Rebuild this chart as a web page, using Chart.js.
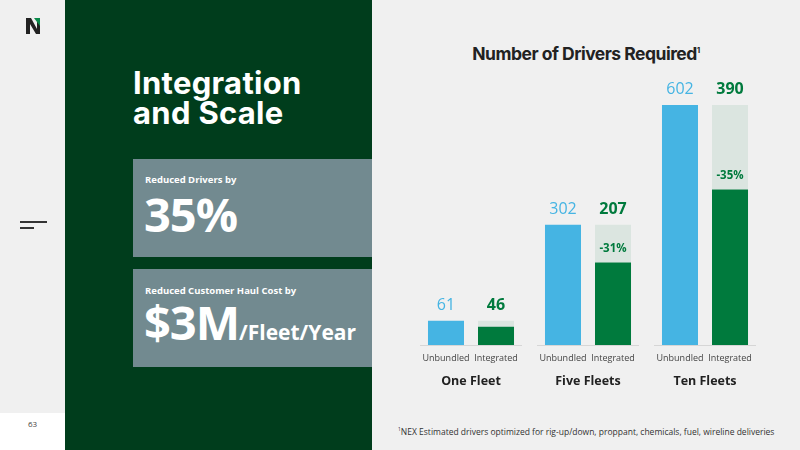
<!DOCTYPE html>
<html><head><meta charset="utf-8">
<script src="https://cdn.jsdelivr.net/npm/chart.js@4"></script>
<style>
body{margin:0;width:800px;height:450px;overflow:hidden;background:#f0f0f0;font-family:"Open Sans",sans-serif;position:relative}
.abs{position:absolute}
</style></head><body>
<div class="abs" style="left:0;top:413px;width:65px;height:37px;background:#fff"></div>
<div class="abs" style="left:0;top:418px;width:65px;text-align:center;font-size:8px;color:#444">63</div>
<svg class="abs" style="left:24px;top:16px" width="18" height="20"><polygon points="2,2 7,2 13,13 13,2 16,2 16,18 12,18 6,8 6,18 2,18" fill="#222"/><polygon points="10,2 16,2 16,10" fill="#0a8a4a"/></svg>
<div class="abs" style="left:20px;top:221px;width:27px;height:1.5px;background:#333"></div>
<div class="abs" style="left:20px;top:227px;width:14px;height:1.5px;background:#333"></div>
<div class="abs" style="left:65px;top:0;width:307px;height:450px;background:#003d1c"></div>
<div class="abs" style="left:133px;top:68px;color:#fff;font-family:Inter,sans-serif;font-weight:700;font-size:31px;line-height:30px;letter-spacing:0.3px">Integration<br>and Scale</div>
<div class="abs" style="left:133px;top:159px;width:239px;height:98px;background:#728a90"></div>
<div class="abs" style="left:145px;top:173px;color:#fff;font-size:9.5px;font-weight:700">Reduced Drivers by</div>
<div class="abs" style="left:144px;top:186px;color:#fff;font-size:47px;font-weight:700;line-height:56px;letter-spacing:-1px">35%</div>
<div class="abs" style="left:133px;top:269px;width:239px;height:98px;background:#728a90"></div>
<div class="abs" style="left:145px;top:284px;color:#fff;font-size:9.5px;font-weight:700">Reduced Customer Haul Cost by</div>
<div class="abs" style="left:144px;top:294px;color:#fff;font-size:47px;font-weight:700;line-height:56px;letter-spacing:-1px">$3M<span style="font-size:21px;letter-spacing:0">/Fleet/Year</span></div>
<div class="abs" style="left:372px;top:43px;width:428px;text-align:center;font-family:Inter,sans-serif;font-weight:700;font-size:17.5px;color:#222;letter-spacing:-0.5px">Number of Drivers Required<sup style="font-size:8px">1</sup></div>
<div class="abs" style="left:398px;top:426px;font-size:8.5px;color:#333"><sup style="font-size:5px">1</sup>NEX Estimated drivers optimized for rig-up/down, proppant, chemicals, fuel, wireline deliveries</div>
<div class="abs" style="left:372px;top:0;width:428px;height:450px"><canvas id="c"></canvas></div>
<script>
const categories=["One Fleet","Five Fleets","Ten Fleets"];
const unbundled=[61,302,602];
const integrated=[46,207,390];
const reductions=["","-31%","-35%"];
const subLabels=["Unbundled","Integrated"];
const remainder=unbundled.map((v,i)=>v-integrated[i]);
const labelsPlugin={id:'lbl',afterDatasetsDraw(ch){
 const c=ch.ctx,m0=ch.getDatasetMeta(0),m1=ch.getDatasetMeta(1),y0=ch.scales.y.getPixelForValue(0);
 c.save();c.textAlign='center';
 categories.forEach((cat,i)=>{
  const cx=ch.scales.x.getPixelForValue(i);
  c.strokeStyle='#d6d6d6';c.lineWidth=1;c.beginPath();c.moveTo(cx-51,y0+0.5);c.lineTo(cx+51,y0+0.5);c.stroke();
  const a=m0.data[i],b=m1.data[i];
  const top=ch.scales.y.getPixelForValue(unbundled[i]);
  c.font='16px "Open Sans"';c.fillStyle='#45b4e3';c.fillText(unbundled[i],a.x,top-11);
  c.font='bold 16px "Open Sans"';c.fillStyle='#007a3d';c.fillText(integrated[i],b.x,top-11);
  if(reductions[i]){c.font='bold 11.5px "Open Sans"';c.fillText(reductions[i],b.x,b.y-11);}
  c.font='9px "Open Sans"';c.fillStyle='#444';
  c.fillText(subLabels[0],a.x,y0+16);c.fillText(subLabels[1],b.x,y0+16);
  c.font='bold 12.5px "Open Sans"';c.fillStyle='#222';c.fillText(cat,cx,y0+40);
 });
 c.restore();}};
new Chart(document.getElementById('c'),{type:'bar',
 data:{labels:categories,datasets:[
  {data:unbundled,backgroundColor:'#45b4e3',stack:'u'},
  {data:integrated,backgroundColor:'#007a3d',stack:'i'},
  {data:remainder,backgroundColor:'#dbe5e0',stack:'i'}]},
 options:{responsive:true,maintainAspectRatio:false,animation:false,
  layout:{padding:{left:40.5,right:36.5,top:80,bottom:105}},
  categoryPercentage:0.855,barPercentage:0.72,
  plugins:{legend:{display:false},tooltip:{enabled:false}},
  scales:{x:{stacked:true,display:false},y:{stacked:true,display:false,min:0,max:665}}},
 plugins:[labelsPlugin]});
</script></body></html>
